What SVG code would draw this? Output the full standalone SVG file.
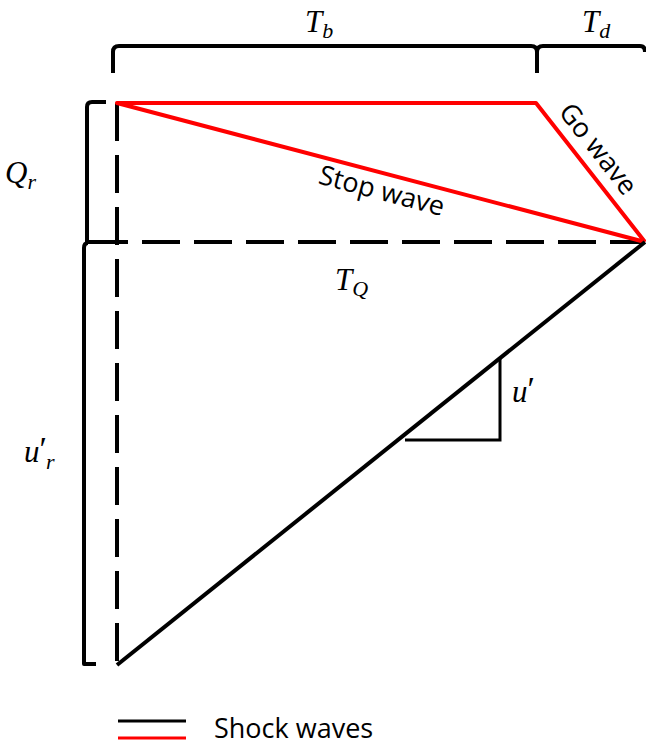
<svg xmlns="http://www.w3.org/2000/svg" width="646" height="749" viewBox="0 0 646 749">
<style>
.br{fill:none;stroke:#000;stroke-width:4;stroke-linejoin:round}
.dash{fill:none;stroke:#000;stroke-width:4;stroke-dasharray:38 14}
.red{fill:none;stroke:#ff0000;stroke-width:4;stroke-linejoin:round}
.blk{fill:none;stroke:#000;stroke-width:4}
.thin{fill:none;stroke:#000;stroke-width:3}
.m{font-family:"Liberation Serif",serif;font-style:italic;font-size:31px;fill:#000}
.s{font-family:"Liberation Serif",serif;font-style:italic;font-size:22px;fill:#000}
.p{font-family:"Liberation Serif",serif;font-style:normal;font-size:34px;fill:#000}
.lbl{font-family:"Open Sans","DejaVu Sans",sans-serif;font-size:27px;fill:#000}
</style>
<rect width="646" height="749" fill="#fff"/>
<g id="brace-top">
<path class="br" d="M113,73 V52 Q113,46 119,46 H531 Q537,46 537,52 V73 M537,73 V52 Q537,46 543,46 H640 Q645,46 645,52"/>
<text class="m" x="305" y="32">T<tspan class="s" dy="6">b</tspan></text>
<text class="m" x="582" y="32">T<tspan class="s" dy="6">d</tspan></text>
</g>
<g id="brace-left">
<path class="br" d="M106,102 H92 Q87,102 87,107 V242 H106"/>
<path class="br" d="M88,243 Q84,243 84,248 V664 H96"/>
<text class="m" x="5" y="183">Q<tspan class="s" dy="6">r</tspan></text>
<text class="m" x="24" y="462">u<tspan class="p" dy="-2">′</tspan><tspan class="s" dx="-1" dy="9">r</tspan></text>
</g>
<g id="connectors">
<line class="dash" x1="117" y1="103" x2="117" y2="664"/>
<line class="dash" x1="90" y1="242" x2="645" y2="242"/>
<polyline class="red" points="645,242 117,103 536,103 645,242"/>
<line class="blk" x1="117" y1="665" x2="645" y2="242"/>
<polyline class="thin" points="500,358 500,440 405,440"/>
</g>
<g id="labels">
<text class="m" x="335" y="290">T<tspan class="s" dy="6">Q</tspan></text>
<text class="m" x="512" y="402">u<tspan class="p" dy="-2">′</tspan></text>
<text class="lbl" x="382" y="200" text-anchor="middle" transform="rotate(14.7 382 190)">Stop wave</text>
<text class="lbl" x="598" y="158" text-anchor="middle" font-size="24" transform="rotate(51.9 598 149)">Go wave</text>
</g>
<g id="legend">
<line x1="118" y1="721" x2="186" y2="721" stroke="#000" stroke-width="3"/>
<line x1="118" y1="738" x2="186" y2="738" stroke="#ff0000" stroke-width="3"/>
<text class="lbl" x="214" y="738">Shock waves</text>
</g>
</svg>
